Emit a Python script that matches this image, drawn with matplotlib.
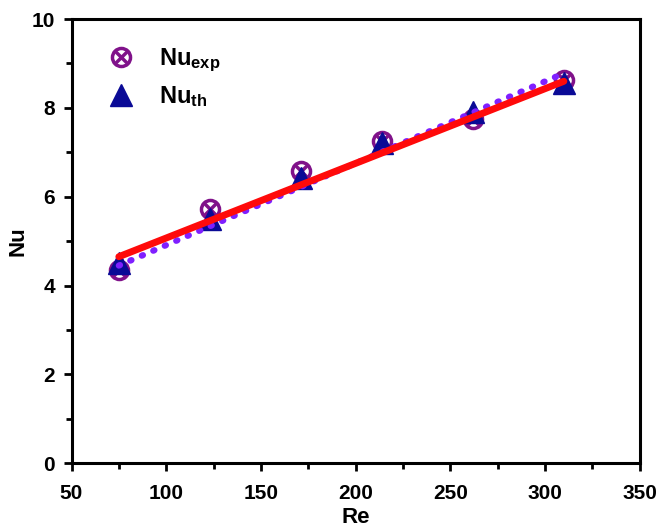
import matplotlib.pyplot as plt
from matplotlib.legend_handler import HandlerTuple
from matplotlib.ticker import MultipleLocator

plt.rcParams['font.family'] = ['Liberation Sans', 'DejaVu Sans']
plt.rcParams['font.weight'] = 'bold'
plt.rcParams['mathtext.fontset'] = 'custom'
plt.rcParams['mathtext.rm'] = 'Liberation Sans:bold'
plt.rcParams['mathtext.bf'] = 'Liberation Sans:bold'
plt.rcParams['mathtext.default'] = 'bf'

# Reynolds number and measured / predicted Nusselt number
re = [75, 123, 171, 214, 262, 310]
nu_exp = [4.35, 5.72, 6.57, 7.25, 7.75, 8.63]
nu_th = [4.50, 5.50, 6.42, 7.20, 7.90, 8.55]

# end points of the two trend lines
line_re = [75, 310]
red_nu = [4.65, 8.60]
dot_nu = [4.45, 8.78]

fig = plt.figure(figsize=(6.56, 5.30), dpi=100)
ax = fig.add_axes([0.109, 0.126, 0.866, 0.838])

purple = '#80128A'
navy = '#0A0A96'

h_o, = ax.plot(re, nu_exp, ls='none', marker='o', ms=13, mfc='none',
               mec=purple, mew=2.5, zorder=3)
h_x, = ax.plot(re, nu_exp, ls='none', marker='x', ms=10, mec=purple,
               mew=2.5, zorder=3)
h_t, = ax.plot(re, nu_th, ls='none', marker='^', ms=16, color=navy,
               mec=navy, zorder=4)

ax.plot(line_re, dot_nu, ls=(0, (0.2, 1.8)), color='#7F1FFF', lw=4.5,
        dash_capstyle='round', zorder=5)
ax.plot(line_re, red_nu, color='#FF0A0A', lw=5, solid_capstyle='round',
        zorder=6)

ax.set_xlim(50, 350)
ax.set_ylim(0, 10)
ax.xaxis.set_major_locator(MultipleLocator(50))
ax.xaxis.set_minor_locator(MultipleLocator(25))
ax.yaxis.set_major_locator(MultipleLocator(2))
ax.yaxis.set_minor_locator(MultipleLocator(1))
ax.tick_params(which='major', direction='out', length=6, width=2,
               labelsize=15, pad=6, top=False, right=False)
ax.tick_params(axis='x', which='major', pad=9)
ax.tick_params(which='minor', direction='out', length=4, width=2,
               top=False, right=False)
for s in ax.spines.values():
    s.set_linewidth(2.2)

ax.set_xlabel('Re', fontsize=16, fontweight='bold', labelpad=3)
ax.set_ylabel('Nu', fontsize=16, fontweight='bold', labelpad=2)

ax.legend([(h_o, h_x), h_t], ['Nu$_{exp}$', 'Nu$_{th}$'],
          handler_map={tuple: HandlerTuple(ndivide=1, pad=0)},
          loc='upper left', bbox_to_anchor=(0.025, 0.985), frameon=False,
          fontsize=17, handlelength=1.2, handletextpad=1.0,
          labelspacing=0.4)

fig.savefig('out.png', dpi=100)
